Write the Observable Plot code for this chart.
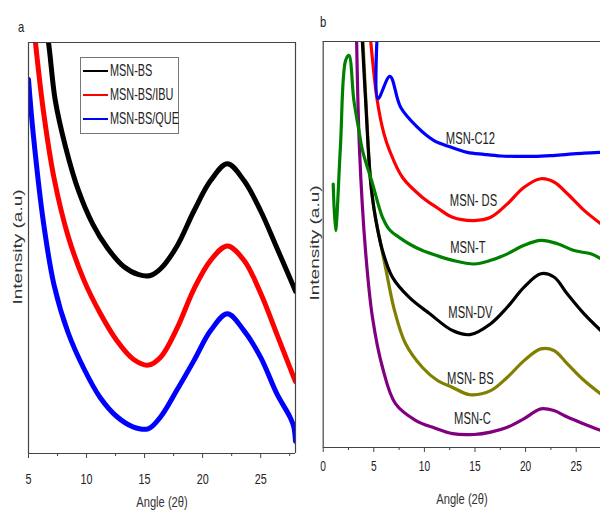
<!DOCTYPE html>
<html><head><meta charset="utf-8">
<script src="https://cdn.jsdelivr.net/npm/d3@7"></script>
<script src="https://cdn.jsdelivr.net/npm/@observablehq/plot@0.6"></script>
<style>
body{margin:0;background:#fff;}
#wrap{position:relative;width:600px;height:511px;overflow:hidden;font-family:"Liberation Sans",Arial,sans-serif;color:#222;}
.panel{position:absolute;top:0;}
.t{position:absolute;white-space:nowrap;line-height:1;transform-origin:0 0;transform:scaleX(0.75);}
.ylab{position:absolute;white-space:nowrap;font-size:19px;line-height:1;transform:translate(-50%,-50%) scaleX(0.72) rotate(-90deg);color:#333;}
.xlab{position:absolute;white-space:nowrap;font-size:15.5px;line-height:1;transform:translateX(-50%) scaleX(0.72);color:#333;}
.leg{position:absolute;left:80px;top:57px;width:97px;height:75px;border:1px solid #777;background:#fff;}
.leg .row{position:absolute;left:2px;height:18px;width:95px;}
.leg .sw{position:absolute;left:0;top:8px;width:25px;height:2px;}
.leg .tx{position:absolute;left:27px;top:0;font-size:17px;line-height:18px;color:#222;white-space:nowrap;transform-origin:0 50%;transform:scaleX(0.64);}
</style></head><body>
<div id="wrap">
  <div id="pa" class="panel" style="left:0"></div>
  <div id="pb" class="panel" style="left:300px"></div>
  <div class="t" style="left:18px;top:19px;font-size:15px;">a</div>
  <div class="t" style="left:320px;top:14px;font-size:15px;">b</div>
  <div class="ylab" style="left:17px;top:247px;">Intensity (a.u)</div>
  <div class="ylab" style="left:314px;top:243px;">Intensity (a.u)</div>
  <div class="xlab" style="left:162px;top:494px;">Angle (2θ)</div>
  <div class="xlab" style="left:462px;top:491px;">Angle (2θ)</div>
  <div class="leg" id="legend"></div>
</div>
<script>
// ---------- Panel a data ----------
const xA_BS  = [6.5,6.72,7.3,8.2,9.3,10.5,11.8,13.2,14.5,15.5,16.4,17.8,19.25,20.69,22.13,23.56,25.0,26.4,27.85,28];
const yA_BS  = [103,100,86,74.5,64,56,50,45.5,43.5,43.3,45,50.5,59,66.4,70.5,66.4,59,50,40.5,39.5];
const xA_IBU = [5.5,5.6,6.3,7.2,8.4,9.8,11.2,12.6,14.0,15.3,16.4,17.8,19.25,20.69,22.13,23.56,25.0,26.4,27.85,28];
const yA_IBU = [103,100,83,67,53,42,34,27.5,23,21.5,23.5,30.5,40,47,50.5,47,39,29,18.5,17.5];
const xA_QUE = [5.0,5.4,6.3,7.2,8.4,9.8,11.2,12.6,14.0,15.3,16.4,17.8,19.25,20.69,22.13,23.56,25.0,26.4,27.5,27.85,28];
const yA_QUE = [91,78,56,41,29.5,20.5,13.5,9,6.5,6,9,15.5,22.6,29.9,34,29.9,23.4,14.5,9,6.5,3];
const seriesA = ["MSN-BS","MSN-BS/IBU","MSN-BS/QUE"];
const colorsA = ["#000000","#ff0000","#0000ff"];
const ticksA = [5,10,15,20,25];
const minorA = [7.5,12.5,17.5,22.5,27.5];

// ---------- Panel b data ----------
const xB_C12 = [5.34,5.41,6.59,7.65,9.30,10.95,12.6,14.24,15.89,17.54,19.19,20.84,22.49,24.13,25.78,27.43];
const yB_C12 = [101.9,85.9,91.4,83.8,78.9,75.6,74.0,72.7,72.2,71.8,71.7,71.7,71.9,72.2,72.5,72.7];
const xB_DS  = [4.68,5.34,6.0,6.55,7.84,9.81,11.3,12.78,14.9,16.55,18.2,19.85,21.5,22.8,24.13,25.78,27.43];
const yB_DS  = [100.5,85.5,77.3,73.2,66.5,61.6,59,56.7,55.9,56.7,60.0,64.1,66.2,65.4,62.5,58.4,55.1];
const xB_T   = [0.99,1.22,1.7,2.21,2.54,3.03,3.5,3.88,4.87,5.86,6.6,7.54,8.6,9.81,11.3,12.78,14.9,16.55,18.2,19.85,21.5,23.15,24.79,26.44,27.43];
const yB_T   = [64.9,53.4,74,95.3,96.6,85.5,78.5,73.2,65.0,56.7,53.5,51.7,50,48.5,47.2,46.1,45.2,46.1,47.7,49.8,51.0,50.2,48.5,47.7,46.5];
const xB_DV  = [3.86,4.2,4.67,5.17,5.86,6.85,8.53,10.5,12.78,14.5,16.55,18.2,19.85,21.5,22.8,24.13,25.78,27.43];
const yB_DV  = [100.5,85,66,56.5,48.5,41.9,36.9,33.0,28.8,27.8,30.5,34.6,39.5,42.8,42.0,37.8,32.9,28.8];
const xB_BS  = [3.92,4.25,4.7,5.1,5.37,6.16,7.05,8.13,9.81,11.3,12.78,14.5,16.55,18.2,19.85,21.5,22.8,24.13,25.78,27.43];
const yB_BS  = [100.5,84,65,57.5,54,44.3,33.7,25.6,19.7,16.5,14.8,13.0,14.0,17.3,21.4,24.3,23.9,20.6,16.5,13.2];
const xB_C   = [3.30,3.59,4.18,4.87,5.86,7.14,9.12,11.0,12.78,14.9,16.55,18.2,19.85,21.5,22.8,24.13,25.78,27.43];
const yB_C   = [100.5,73.2,48.5,32.0,19.7,10.8,6.7,4.8,3.4,3.2,3.8,5.0,7.1,9.5,9.1,7.5,5.8,4.2];
const seriesB = ["MSN-C12","MSN- DS","MSN-T","MSN-DV","MSN- BS","MSN-C"];
const colorsB = ["#0000ff","#ff0000","#008000","#000000","#808000","#800080"];
const labelXB = [14.55,14.85,14.3,14.55,14.55,14.75];
const labelYB = [76.1,60.8,49.3,33.2,17.0,7.1];
const ticksB = [0,5,10,15,20,25];
const minorB = [2.5,7.5,12.5,17.5,22.5,27.5];

const zip = (xs, ys) => xs.map((x, i) => ({x, y: ys[i]}));
const fontFam = "'Liberation Sans',Arial,sans-serif";

// squeeze svg text horizontally (reference typography is condensed)
function squeeze(svg, k) {
  svg.querySelectorAll("text").forEach(t => {
    const tr = t.getAttribute("transform");
    if (tr) t.setAttribute("transform", tr + ` scale(${k},1)`);
    else {
      const x = +t.getAttribute("x") || 0, y = +t.getAttribute("y") || 0;
      t.setAttribute("x", 0); t.setAttribute("y", 0);
      t.setAttribute("transform", `translate(${x},${y}) scale(${k},1)`);
    }
  });
}

// ---------- Panel a ----------
const linesA = [zip(xA_BS,yA_BS), zip(xA_IBU,yA_IBU), zip(xA_QUE,yA_QUE)];
const plotA = Plot.plot({
  width: 300, height: 511,
  marginLeft: 28, marginRight: 5, marginTop: 42, marginBottom: 58,
  x: {domain: [5, 28]},
  y: {domain: [0, 100], axis: null},
  style: {fontFamily: fontFam, fontSize: "14px", color: "#222", background: "transparent", overflow: "visible"},
  marks: [
    ...linesA.map((d, i) => Plot.line(d, {x: "x", y: "y", stroke: colorsA[i], strokeWidth: 5, curve: "catmull-rom", clip: true})),
    Plot.ruleX([5, 28], {stroke: "#444", strokeWidth: 1.2}),
    Plot.ruleY([0, 100], {stroke: "#444", strokeWidth: 1.2}),
    Plot.axisX({ticks: ticksA, tickSize: 5, tickPadding: 15, label: null, stroke: "#444", fontSize: 15}),
    Plot.axisX({ticks: minorA.filter(t => t <= 28), tickSize: 3, tickFormat: () => "", label: null, stroke: "#444"})
  ]
});
squeeze(plotA, 0.72);
document.getElementById("pa").append(plotA);

// ---------- Panel b ----------
const linesB = [zip(xB_C12,yB_C12), zip(xB_DS,yB_DS), zip(xB_T,yB_T), zip(xB_DV,yB_DV), zip(xB_BS,yB_BS), zip(xB_C,yB_C)];
const labelsB = seriesB.map((s, i) => ({s, x: labelXB[i], y: labelYB[i]}));
const plotB = Plot.plot({
  width: 300, height: 511,
  marginLeft: 22.7, marginRight: 0, marginTop: 41, marginBottom: 64,
  x: {domain: [0, 27.4]},
  y: {domain: [0, 100], axis: null},
  style: {fontFamily: fontFam, fontSize: "14px", color: "#222", background: "transparent", overflow: "visible"},
  marks: [
    ...[5,4,3,2,1,0].map(i => Plot.line(linesB[i], {x: "x", y: "y", stroke: colorsB[i], strokeWidth: 3.2, curve: "catmull-rom", clip: true})),
    Plot.text(labelsB, {x: "x", y: "y", text: "s", fontSize: 16.5, fill: "#222", textAnchor: "middle", lineAnchor: "middle"}),
    Plot.ruleX([0], {stroke: "#444", strokeWidth: 1.2}),
    Plot.ruleY([0, 100], {stroke: "#444", strokeWidth: 1.2}),
    Plot.axisX({ticks: ticksB, tickSize: 5, tickPadding: 8, label: null, stroke: "#444", fontSize: 15}),
    Plot.axisX({ticks: minorB.filter(t => t <= 27.4), tickSize: 3, tickFormat: () => "", label: null, stroke: "#444"})
  ]
});
squeeze(plotB, 0.68);
document.getElementById("pb").append(plotB);

// ---------- Legend (panel a) ----------
const leg = document.getElementById("legend");
seriesA.forEach((s, i) => {
  const row = document.createElement("div");
  row.className = "row";
  row.style.top = (4 + i * 24) + "px";
  row.innerHTML = `<div class="sw" style="background:${colorsA[i]}"></div><div class="tx">${s}</div>`;
  leg.append(row);
});
</script>
</body></html>
